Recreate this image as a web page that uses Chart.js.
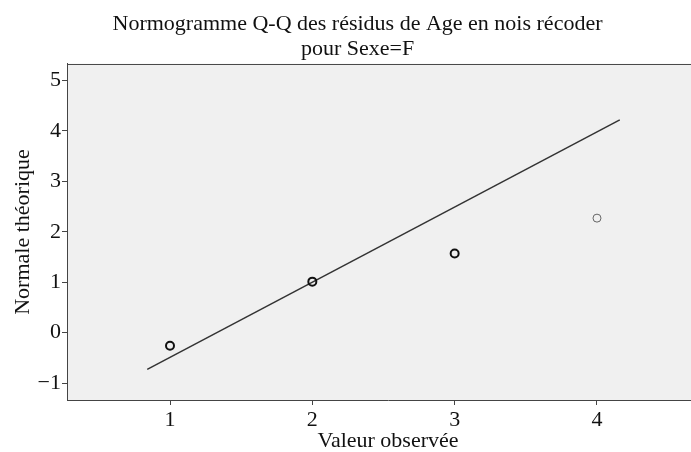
<!DOCTYPE html>
<html>
<head>
<meta charset="utf-8">
<script src="https://cdn.jsdelivr.net/npm/chart.js@4"></script>
<style>
  html, body { margin: 0; padding: 0; background: #fff; overflow: hidden; }
  #cadre { width: 691px; height: 452px; overflow: hidden; }
  canvas { display: block; }
</style>
</head>
<body>
<div id="cadre">
  <canvas id="graphique-qq" width="715" height="452"></canvas>
</div>
<script>
// Valeurs
const valeursObservees = [1, 2, 3, 4];
const normaleTheorique = [-0.26, 1.01, 1.57, 2.27];
const droiteX = [0.84, 4.16];
const droiteY = [-0.73, 4.22];
const ticksX = [1, 2, 3, 4];
const ticksY = [-1, 0, 1, 2, 3, 4, 5];

const titreLignes = ['Normogramme Q-Q des résidus de Age en nois récoder', 'pour Sexe=F'];

const police = 'Liberation Serif, Times New Roman, serif';

// fond gris et trait du haut de la zone de tracé
const fondZone = {
  id: 'fondZone',
  beforeDraw(chart) {
    const { ctx, chartArea: a } = chart;
    ctx.save();
    ctx.fillStyle = '#f0f0f0';
    ctx.fillRect(a.left, a.top, a.right - a.left, a.bottom - a.top);
    ctx.strokeStyle = '#444';
    ctx.lineWidth = 1;
    ctx.beginPath();
    ctx.moveTo(a.left, a.top + 0.5);
    ctx.lineTo(a.right, a.top + 0.5);
    ctx.stroke();
    ctx.restore();
  }
};

document.addEventListener('DOMContentLoaded', () => {
  const ctx = document.getElementById('graphique-qq').getContext('2d');

  new Chart(ctx, {
    type: 'scatter',
    data: {
      datasets: [
        {
          label: 'Observé',
          data: valeursObservees.map((v, i) => ({ x: v, y: normaleTheorique[i] })),
          pointRadius: 4,
          pointHoverRadius: 4,
          pointBorderWidth: [2, 2, 2, 1],
          pointBorderColor: ['#111', '#111', '#111', '#666'],
          pointBackgroundColor: 'rgba(0,0,0,0)',
          showLine: false
        },
        {
          label: 'Droite',
          type: 'line',
          data: droiteX.map((v, i) => ({ x: v, y: droiteY[i] })),
          borderColor: '#333',
          borderWidth: 1.5,
          pointRadius: 0,
          fill: false
        }
      ]
    },
    options: {
      responsive: false,
      animation: false,
      devicePixelRatio: 1,
      layout: { padding: 0 },
      plugins: {
        legend: { display: false },
        tooltip: { enabled: false },
        title: {
          display: true,
          text: titreLignes,
          color: '#111',
          font: { family: police, size: 22, weight: 'normal', lineHeight: 1.136 },
          padding: { top: 11.5, bottom: 2.5 }
        }
      },
      scales: {
        x: {
          type: 'linear',
          min: 0.2763,
          max: 4.787,
          afterBuildTicks: axe => { axe.ticks = ticksX.map(v => ({ value: v })); },
          afterFit: axe => { axe.height = 52; },
          grid: { display: true, drawOnChartArea: false, drawTicks: true, tickLength: 5, color: '#444' },
          border: { display: true, color: '#444', width: 1 },
          ticks: {
            color: '#111',
            padding: 2,
            font: { family: police, size: 22 },
            callback: v => String(v)
          },
          title: {
            display: true,
            text: 'Valeur observée',
            color: '#111',
            font: { family: police, size: 22, lineHeight: 1 },
            padding: { top: 0, bottom: 0 }
          }
        },
        y: {
          type: 'linear',
          min: -1.337,
          max: 5.327,
          afterBuildTicks: axe => { axe.ticks = ticksY.map(v => ({ value: v })); },
          afterFit: axe => { axe.width = 67; },
          grid: { display: true, drawOnChartArea: false, drawTicks: true, tickLength: 5, color: '#444' },
          border: { display: true, color: '#444', width: 1 },
          ticks: {
            color: '#111',
            padding: 1,
            font: { family: police, size: 22 },
            callback: v => (v < 0 ? '\u2212' + Math.abs(v) : String(v))
          },
          title: {
            display: true,
            text: 'Normale théorique',
            color: '#111',
            font: { family: police, size: 22, lineHeight: 1.2 },
            padding: { top: 10, bottom: 0 }
          }
        }
      }
    },
    plugins: [fondZone]
  });
});
</script>
</body>
</html>
